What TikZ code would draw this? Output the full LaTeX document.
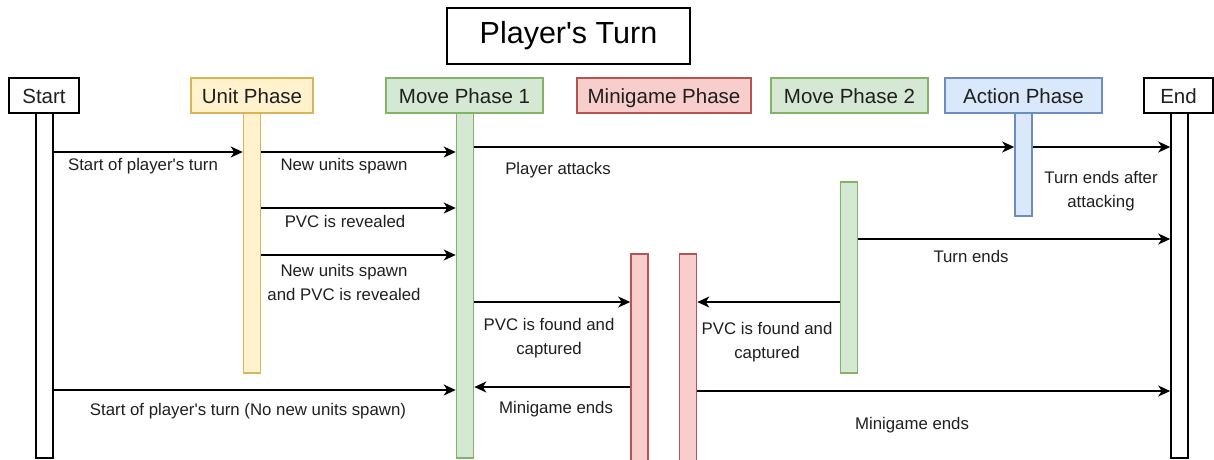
\documentclass[tikz,border=0pt]{standalone}
\usepackage{fontspec}
\setmainfont{Liberation Sans}[Ligatures=TeXOff]
\usetikzlibrary{arrows.meta}
\definecolor{yfill}{HTML}{FFF2CC}\definecolor{ydraw}{HTML}{D6B656}
\definecolor{gfill}{HTML}{D5E8D4}\definecolor{gdraw}{HTML}{82B366}
\definecolor{rfill}{HTML}{F8CECC}\definecolor{rdraw}{HTML}{B85450}
\definecolor{bfill}{HTML}{DAE8FC}\definecolor{bdraw}{HTML}{6C8EBF}
\definecolor{txt}{HTML}{1F1F1F}
\begin{document}
\begin{tikzpicture}[x=1pt,y=-1pt,
  hdr/.style={draw, line width=1.6pt, minimum height=35pt, inner sep=0pt,
    text height=15pt, text depth=0pt,
    font=\fontsize{20.5}{24}\selectfont, text=txt},
  bar/.style={draw, line width=1.6pt, minimum width=17pt, inner sep=0pt},
  lbl/.style={inner sep=0pt, align=center, font=\fontsize{16.8}{24}\selectfont, text=txt},
  msg/.style={line width=1.5pt, -{Stealth[length=12pt,width=11pt,inset=3.5pt]}},
  yel/.style={fill=yfill, draw=ydraw},
  grn/.style={fill=gfill, draw=gdraw},
  red/.style={fill=rfill, draw=rdraw},
  blu/.style={fill=bfill, draw=bdraw}]
\useasboundingbox (0,0) rectangle (1214,459);
\clip (0,0) rectangle (1214,459);

% title
\node[draw, line width=1.6pt, minimum width=243pt, minimum height=56pt, inner sep=0pt,
  font=\fontsize{30.5}{36}\selectfont] (title) at (568.5,36) {Player's Turn};

% headers
\node[hdr, fill=white, minimum width=70pt]  (hs) at (44,95.5)   {Start};
\node[hdr, yel, minimum width=122pt] (hu) at (252,95.5)  {Unit Phase};
\node[hdr, grn, minimum width=157pt] (hm1) at (464.5,95.5) {Move Phase 1};
\node[hdr, red, minimum width=174pt] (hg) at (664,95.5)  {Minigame Phase};
\node[hdr, grn, minimum width=157pt] (hm2) at (849.5,95.5) {Move Phase 2};
\node[hdr, blu, minimum width=157pt] (ha) at (1023.5,95.5) {Action Phase};
\node[hdr, fill=white, minimum width=69pt]  (he) at (1178.5,95.5) {End};

% activation bars
\node[bar, fill=white, minimum height=345pt] (sb) at (44.5,285.5) {};
\node[bar, yel, minimum height=260pt] (ub) at (252,243) {};
\node[bar, grn, minimum height=345pt] (m1b) at (465,285.5) {};
\node[bar, blu, minimum height=103pt] (ab) at (1023.5,164.5) {};
\node[bar, fill=white, minimum height=345pt] (eb) at (1179.5,285.5) {};
\node[bar, grn, minimum height=191pt] (m2b) at (849,277.5) {};
\node[bar, red, minimum height=216pt] (g1b) at (639.5,362) {};
\node[bar, red, minimum height=216pt] (g2b) at (688,362) {};

% message levels
\coordinate (r1) at (0,152);
\coordinate (r2) at (0,147);
\coordinate (r3) at (0,208);
\coordinate (r4) at (0,255);
\coordinate (r5) at (0,239);
\coordinate (r6) at (0,302);
\coordinate (r7) at (0,390);
\coordinate (r8) at (0,387);
\coordinate (r9) at (0,391);

% messages
\draw[msg] (sb.east |- r1) -- (ub.west |- r1);
\draw[msg] (ub.east |- r1) -- (m1b.west |- r1);
\draw[msg] (m1b.east |- r2) -- (ab.west |- r2);
\draw[msg] (ab.east |- r2) -- (eb.west |- r2);
\draw[msg] (ub.east |- r3) -- (m1b.west |- r3);
\draw[msg] (ub.east |- r4) -- (m1b.west |- r4);
\draw[msg] (m2b.east |- r5) -- (eb.west |- r5);
\draw[msg] (m1b.east |- r6) -- (g1b.west |- r6);
\draw[msg] (m2b.west |- r6) -- (g2b.east |- r6);
\draw[msg] (sb.east |- r7) -- (m1b.west |- r7);
\draw[msg] (g1b.west |- r8) -- (m1b.east |- r8);
\draw[msg] (g2b.east |- r9) -- (eb.west |- r9);

% labels
\node[lbl] (l1) at (143,166.5) {Start of player's turn};
\node[lbl] (l2) at (344,166.5) {New units spawn};
\node[lbl] (l3) at (558,170.5) {Player attacks};
\node[lbl] (l4) at (1101,191) {Turn ends after\\attacking};
\node[lbl] (l5) at (345,221.5) {PVC is revealed};
\node[lbl] (l6) at (344,282.5) {New units spawn\\and PVC is revealed};
\node[lbl] (l7) at (971,256.5) {Turn ends};
\node[lbl] (l8) at (549,338.5) {PVC is found and\\captured};
\node[lbl] (l9) at (767,342.5) {PVC is found and\\captured};
\node[lbl] (l10) at (248,411.5) {Start of player's turn (No new units spawn)};
\node[lbl] (l11) at (556,409.5) {Minigame ends};
\node[lbl] (l12) at (912,425.5) {Minigame ends};
\end{tikzpicture}
\end{document}
